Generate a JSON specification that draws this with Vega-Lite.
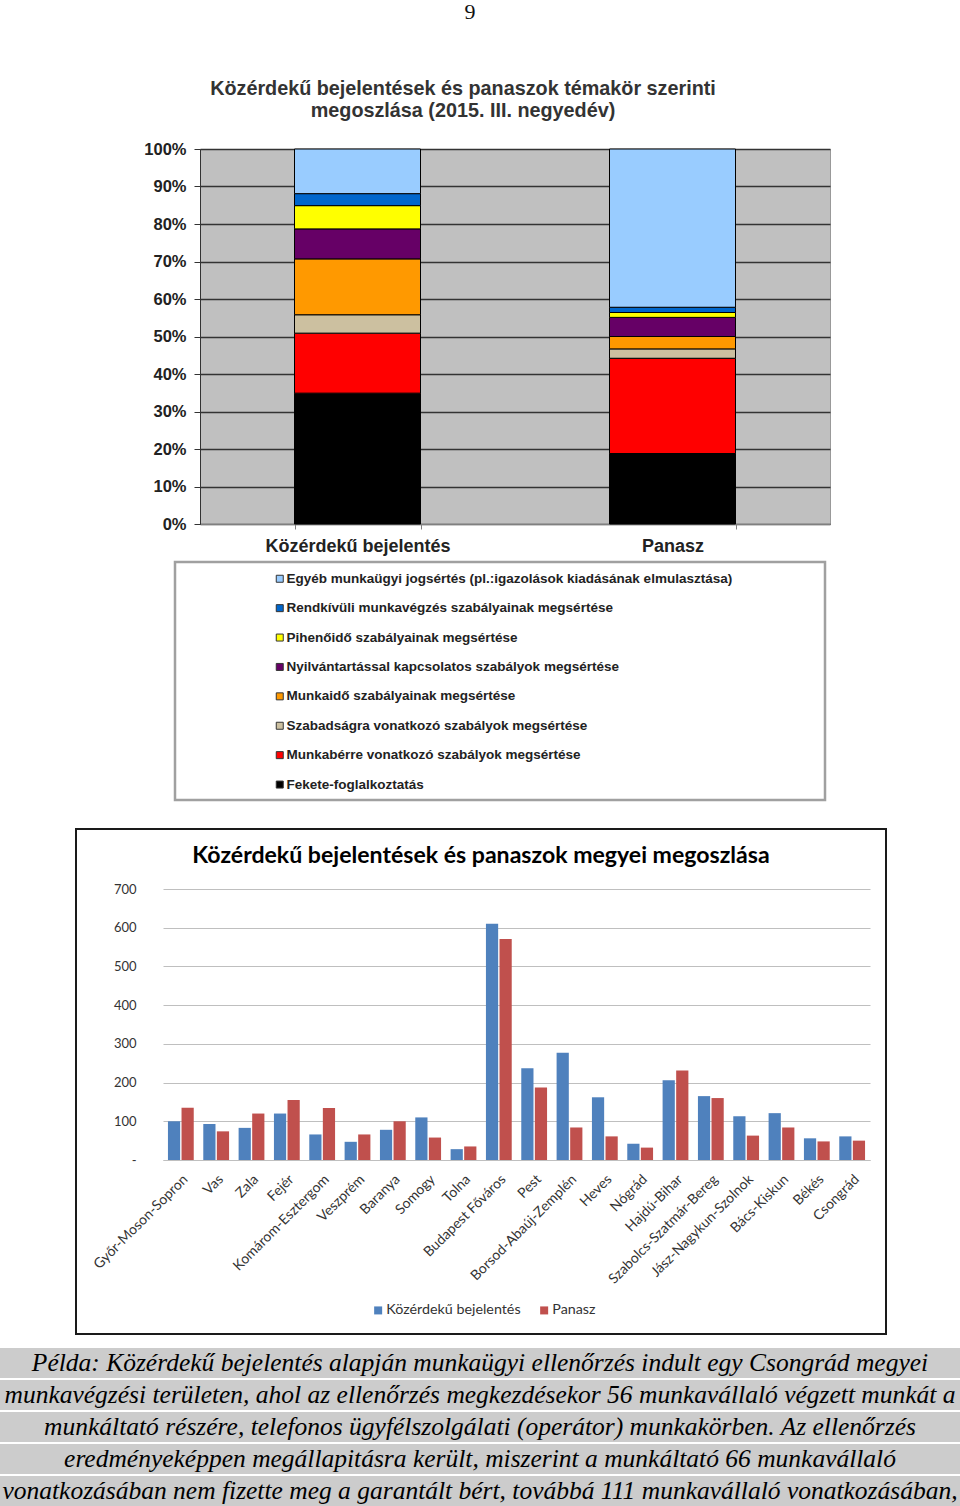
{
  "$schema": "https://vega.github.io/schema/vega-lite/v6.json",
  "background": "white",
  "padding": 0,
  "spacing": 0,
  "bounds": "flush",
  "config": {"view": {"stroke": null}, "font": "Liberation Sans"},
  "resolve": {"scale": {"color": "independent", "x": "independent", "y": "independent"}, "legend": {"color": "independent"}},
  "datasets": {
    "topics": [
      {"cat": "Közérdekű bejelentés", "topic": "Fekete-foglalkoztatás", "rank": 1, "pct": 34.9},
      {"cat": "Közérdekű bejelentés", "topic": "Munkabérre vonatkozó szabályok megsértése", "rank": 2, "pct": 16.0},
      {"cat": "Közérdekű bejelentés", "topic": "Szabadságra vonatkozó szabályok megsértése", "rank": 3, "pct": 4.9},
      {"cat": "Közérdekű bejelentés", "topic": "Munkaidő szabályainak megsértése", "rank": 4, "pct": 14.9},
      {"cat": "Közérdekű bejelentés", "topic": "Nyilvántartással kapcsolatos szabályok megsértése", "rank": 5, "pct": 8.0},
      {"cat": "Közérdekű bejelentés", "topic": "Pihenőidő szabályainak megsértése", "rank": 6, "pct": 6.2},
      {"cat": "Közérdekű bejelentés", "topic": "Rendkívüli munkavégzés szabályainak megsértése", "rank": 7, "pct": 3.2},
      {"cat": "Közérdekű bejelentés", "topic": "Egyéb munkaügyi jogsértés (pl.:igazolások kiadásának elmulasztása)", "rank": 8, "pct": 11.9},
      {"cat": "Panasz", "topic": "Fekete-foglalkoztatás", "rank": 1, "pct": 18.8},
      {"cat": "Panasz", "topic": "Munkabérre vonatkozó szabályok megsértése", "rank": 2, "pct": 25.4},
      {"cat": "Panasz", "topic": "Szabadságra vonatkozó szabályok megsértése", "rank": 3, "pct": 2.5},
      {"cat": "Panasz", "topic": "Munkaidő szabályainak megsértése", "rank": 4, "pct": 3.3},
      {"cat": "Panasz", "topic": "Nyilvántartással kapcsolatos szabályok megsértése", "rank": 5, "pct": 5.1},
      {"cat": "Panasz", "topic": "Pihenőidő szabályainak megsértése", "rank": 6, "pct": 1.3},
      {"cat": "Panasz", "topic": "Rendkívüli munkavégzés szabályainak megsértése", "rank": 7, "pct": 1.4},
      {"cat": "Panasz", "topic": "Egyéb munkaügyi jogsértés (pl.:igazolások kiadásának elmulasztása)", "rank": 8, "pct": 42.2}
    ],
    "counties": [
      {"county": "Győr-Moson-Sopron", "type": "Közérdekű bejelentés", "n": 100},
      {"county": "Győr-Moson-Sopron", "type": "Panasz", "n": 135},
      {"county": "Vas", "type": "Közérdekű bejelentés", "n": 93},
      {"county": "Vas", "type": "Panasz", "n": 74},
      {"county": "Zala", "type": "Közérdekű bejelentés", "n": 83},
      {"county": "Zala", "type": "Panasz", "n": 120},
      {"county": "Fejér", "type": "Közérdekű bejelentés", "n": 120},
      {"county": "Fejér", "type": "Panasz", "n": 155},
      {"county": "Komárom-Esztergom", "type": "Közérdekű bejelentés", "n": 66},
      {"county": "Komárom-Esztergom", "type": "Panasz", "n": 134},
      {"county": "Veszprém", "type": "Közérdekű bejelentés", "n": 47},
      {"county": "Veszprém", "type": "Panasz", "n": 66},
      {"county": "Baranya", "type": "Közérdekű bejelentés", "n": 78},
      {"county": "Baranya", "type": "Panasz", "n": 100},
      {"county": "Somogy", "type": "Közérdekű bejelentés", "n": 110},
      {"county": "Somogy", "type": "Panasz", "n": 58},
      {"county": "Tolna", "type": "Közérdekű bejelentés", "n": 28},
      {"county": "Tolna", "type": "Panasz", "n": 35},
      {"county": "Budapest Főváros", "type": "Közérdekű bejelentés", "n": 610},
      {"county": "Budapest Főváros", "type": "Panasz", "n": 571},
      {"county": "Pest", "type": "Közérdekű bejelentés", "n": 237},
      {"county": "Pest", "type": "Panasz", "n": 187},
      {"county": "Borsod-Abaúj-Zemplén", "type": "Közérdekű bejelentés", "n": 277},
      {"county": "Borsod-Abaúj-Zemplén", "type": "Panasz", "n": 84},
      {"county": "Heves", "type": "Közérdekű bejelentés", "n": 162},
      {"county": "Heves", "type": "Panasz", "n": 61},
      {"county": "Nógrád", "type": "Közérdekű bejelentés", "n": 42},
      {"county": "Nógrád", "type": "Panasz", "n": 32},
      {"county": "Hajdú-Bihar", "type": "Közérdekű bejelentés", "n": 206},
      {"county": "Hajdú-Bihar", "type": "Panasz", "n": 231},
      {"county": "Szabolcs-Szatmár-Bereg", "type": "Közérdekű bejelentés", "n": 165},
      {"county": "Szabolcs-Szatmár-Bereg", "type": "Panasz", "n": 160},
      {"county": "Jász-Nagykun-Szolnok", "type": "Közérdekű bejelentés", "n": 113},
      {"county": "Jász-Nagykun-Szolnok", "type": "Panasz", "n": 63},
      {"county": "Bács-Kiskun", "type": "Közérdekű bejelentés", "n": 121},
      {"county": "Bács-Kiskun", "type": "Panasz", "n": 84},
      {"county": "Békés", "type": "Közérdekű bejelentés", "n": 56},
      {"county": "Békés", "type": "Panasz", "n": 48},
      {"county": "Csongrád", "type": "Közérdekű bejelentés", "n": 61},
      {"county": "Csongrád", "type": "Panasz", "n": 50}
    ],
    "para": [
      {"line": 1, "txt": "Példa: Közérdekű bejelentés alapján munkaügyi ellenőrzés indult egy Csongrád megyei"},
      {"line": 2, "txt": "munkavégzési területen, ahol az ellenőrzés megkezdésekor 56 munkavállaló végzett munkát a"},
      {"line": 3, "txt": "munkáltató részére, telefonos ügyfélszolgálati (operátor) munkakörben. Az ellenőrzés"},
      {"line": 4, "txt": "eredményeképpen megállapitásra került, miszerint a munkáltató 66 munkavállaló"},
      {"line": 5, "txt": "vonatkozásában nem fizette meg a garantált bért, továbbá 111 munkavállaló vonatkozásában,"}
    ]
  },
  "vconcat": [
    {
      "width": 940, "height": 23,
      "data": {"values": [{"t": "9"}]},
      "mark": {"type": "text", "font": "Liberation Serif", "fontSize": 22, "color": "#111"},
      "encoding": {"text": {"field": "t"}}
    },
    {"width": 10, "height": 126, "data": {"values": [{}]}, "mark": {"type": "text"}, "encoding": {"text": {"value": ""}}},
    {
      "spacing": 0, "bounds": "flush",
      "hconcat": [
        {"width": 200, "height": 375, "data": {"values": [{}]}, "mark": {"type": "text"}, "encoding": {"text": {"value": ""}}},
        {
          "width": 630, "height": 375,
          "view": {"fill": "#C0C0C0", "stroke": "#999999", "strokeWidth": 1},
          "title": {"text": ["Közérdekű bejelentések és panaszok témakör szerinti", "megoszlása (2015. III. negyedév)"], "font": "Liberation Sans", "fontSize": 19.8, "fontWeight": "bold", "color": "#333333", "lineHeight": 22.5, "offset": 20, "anchor": "middle", "frame": "group", "dx": -52},
          "data": {"name": "topics"},
          "mark": {"type": "bar", "stroke": "#000000", "strokeWidth": 1},
          "encoding": {
            "x": {"field": "cat", "type": "nominal", "sort": null,
                  "scale": {"paddingInner": 0.6, "paddingOuter": 0.3},
                  "axis": {"title": null, "labelAngle": 0, "labelLimit": 400, "labelFont": "Liberation Sans", "labelFontWeight": "bold", "labelFontSize": 18, "labelColor": "#222222", "tickBand": "extent", "tickColor": "#808080", "tickSize": 5, "domainColor": "#808080", "labelPadding": 8}},
            "y": {"field": "pct", "type": "quantitative", "stack": "normalize",
                  "scale": {"domain": [0, 1]},
                  "axis": {"title": null, "values": [0, 0.1, 0.2, 0.3, 0.4, 0.5, 0.6, 0.7, 0.8, 0.9, 1], "format": ".0%", "gridColor": "#333333", "gridWidth": 1.5, "domainColor": "#333333", "tickColor": "#333333", "tickSize": 6, "labelFont": "Liberation Sans", "labelFontWeight": "bold", "labelFontSize": 16.5, "labelColor": "#222222", "labelPadding": 8}},
            "color": {"field": "topic", "type": "nominal",
                      "scale": {"domain": ["Egyéb munkaügyi jogsértés (pl.:igazolások kiadásának elmulasztása)", "Rendkívüli munkavégzés szabályainak megsértése", "Pihenőidő szabályainak megsértése", "Nyilvántartással kapcsolatos szabályok megsértése", "Munkaidő szabályainak megsértése", "Szabadságra vonatkozó szabályok megsértése", "Munkabérre vonatkozó szabályok megsértése", "Fekete-foglalkoztatás"],
                                "range": ["#99CCFF", "#0066CC", "#FFFF00", "#660066", "#FF9900", "#CCC0A0", "#FF0000", "#000000"]},
                      "legend": {"orient": "none", "legendX": 273, "legendY": 423, "direction": "vertical", "title": null, "symbolType": "square", "symbolSize": 49, "symbolStrokeColor": "#333333", "symbolStrokeWidth": 1, "labelFont": "Liberation Sans", "labelFontWeight": "bold", "labelFontSize": 13.5, "labelColor": "#222222", "rowPadding": 14.4, "labelOffset": 0, "padding": 0, "labelLimit": 600}},
            "order": {"field": "rank", "type": "quantitative"}
          }
        }
      ]
    },
    {"width": 10, "height": 413, "data": {"values": [{}]}, "mark": {"type": "text"}, "encoding": {"text": {"value": ""}}},
    {
      "spacing": 0, "bounds": "flush",
      "hconcat": [
        {"width": 175, "height": 238, "data": {"values": [{}]}, "mark": {"type": "text"}, "encoding": {"text": {"value": ""}}},
        {"width": 650, "height": 238, "view": {"stroke": "#A0A0A0", "strokeWidth": 2.5}, "data": {"values": [{}]}, "mark": {"type": "text"}, "encoding": {"text": {"value": ""}}}
      ]
    },
    {"width": 10, "height": 267, "data": {"values": [{}]}, "mark": {"type": "text"}, "encoding": {"text": {"value": ""}}},
    {
      "spacing": 0, "bounds": "flush",
      "hconcat": [
        {"width": 76, "height": 505, "data": {"values": [{}]}, "mark": {"type": "text"}, "encoding": {"text": {"value": ""}}},
        {
          "width": 810, "height": 505,
          "view": {"stroke": "#1a1a1a", "strokeWidth": 2},
          "title": {"text": "Közérdekű  bejelentések és panaszok megyei megoszlása", "font": "Lato", "fontSize": 23.1, "fontWeight": "bold", "color": "#000000", "offset": -39, "anchor": "middle", "frame": "group"},
          "data": {"name": "counties"},
          "mark": {"type": "bar"},
          "encoding": {
            "x": {"field": "county", "type": "nominal", "sort": null,
                  "scale": {"range": [87, 794], "paddingInner": 0.27, "paddingOuter": 0.14},
                  "axis": {"title": null, "orient": "bottom", "offset": -174, "labelAngle": -45, "labelFont": "Lato", "labelFontSize": 14, "labelColor": "#333333", "ticks": false, "tickSize": 0, "domainColor": "#BFBFBF", "labelPadding": 12, "grid": false}},
            "xOffset": {"field": "type", "type": "nominal", "scale": {"paddingInner": 0.1}},
            "y": {"field": "n", "type": "quantitative",
                  "scale": {"domain": [0, 700], "range": [331, 60]},
                  "axis": {"title": null, "offset": -87, "values": [0, 100, 200, 300, 400, 500, 600, 700], "labelExpr": "datum.value === 0 ? '-' : datum.label", "ticks": false, "tickSize": 0, "domain": false, "gridColor": "#BFBFBF", "gridWidth": 1, "labelFont": "Lato", "labelFontSize": 13, "labelColor": "#333333", "labelPadding": 27}},
            "color": {"field": "type", "type": "nominal",
                      "scale": {"domain": ["Közérdekű bejelentés", "Panasz"], "range": ["#4F81BD", "#C0504D"]},
                      "legend": {"orient": "none", "legendX": 371, "legendY": 474, "direction": "horizontal", "title": null, "symbolType": "square", "symbolSize": 64, "symbolStrokeWidth": 0, "labelFont": "Lato", "labelFontSize": 14.3, "labelColor": "#333333", "columnPadding": 16, "padding": 0, "labelOffset": 1}}
          }
        }
      ]
    },
    {"width": 10, "height": 519, "data": {"values": [{}]}, "mark": {"type": "text"}, "encoding": {"text": {"value": ""}}},
    {
      "width": 960, "height": 158,
      "data": {"name": "para"},
      "layer": [
        {"mark": {"type": "rect", "color": "#CCCCCC"},
         "encoding": {"y": {"field": "line", "type": "ordinal", "scale": {"paddingInner": 0.06, "paddingOuter": 0}, "axis": null}}},
        {"mark": {"type": "text", "font": "Liberation Serif", "fontStyle": "italic", "fontSize": 25.5, "color": "#000000"},
         "encoding": {"y": {"field": "line", "type": "ordinal", "axis": null}, "text": {"field": "txt"}}}
      ]
    }
  ]
}
